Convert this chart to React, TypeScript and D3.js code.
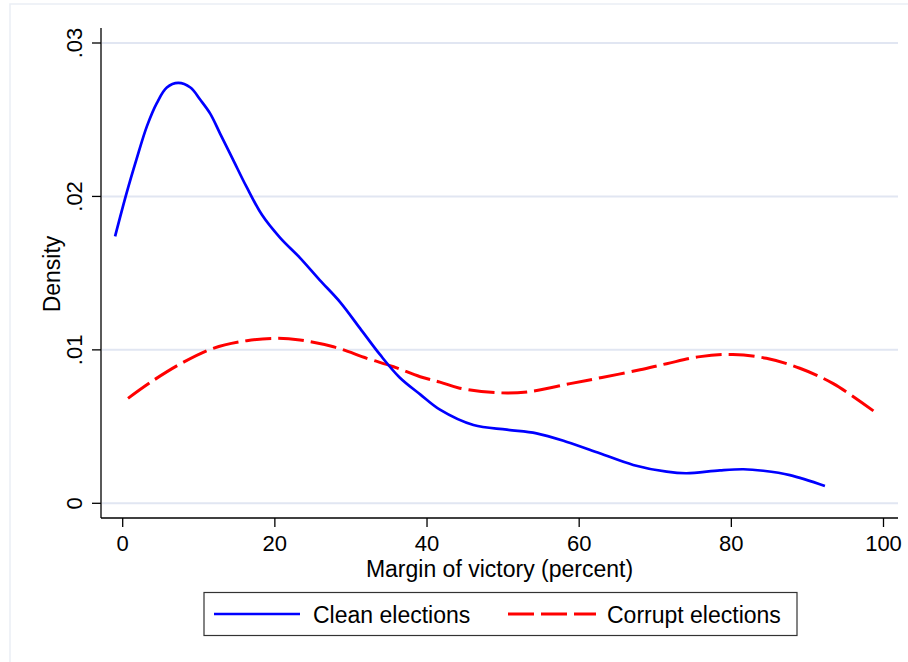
import React from 'react'
import * as d3 from 'd3'

// values
const cleanX = [-1, 0.5, 1.8, 3.2, 4.5, 5.8, 7.3, 8.9, 10.2, 11.5, 12.8, 14.5, 16.3, 18.3, 20.7, 23.3, 25.9, 28.6, 31.2, 33.8, 36.4, 39.1, 41.7, 46.1, 50.5, 54.4, 58.4, 62.7, 67.1, 71.5, 74.1, 78.5, 81.6, 84.2, 87.7, 92.3]
const cleanY = [.0174, .0202, .0224, .0246, .0261, .0271, .0274, .0271, .0263, .0254, .0241, .0224, .0206, .0188, .0173, .0160, .01455, .0131, .0114, .0097, .0082, .0071, .0061, .0051, .0048, .00456, .0040, .00326, .0025, .00206, .00196, .00215, .00222, .00212, .00184, .00113]

const corruptX = [0.7, 4, 8, 11.9, 16.3, 20.2, 23.3, 27.7, 32.1, 35.6, 39.1, 41.7, 44.3, 49.6, 53.5, 58.8, 63, 68, 71.5, 75.9, 80.2, 84.6, 89, 93.4, 99.1]
const corruptY = [.00684, .0080, .0092, .0101, .0106, .01075, .01064, .0102, .00945, .0089, .00825, .0079, .0075, .0072, .00728, .0078, .0082, .0087, .0091, .00956, .0097, .00945, .0088, .0078, .00587]

const xTicks = [0, 20, 40, 60, 80, 100]
const yTicks = [0, .01, .02, .03]
const yTickLabels = ['0', '.01', '.02', '.03']

const font = 'Liberation Sans, Arial, Helvetica, sans-serif'

const App = () => {
  const width = 908
  const height = 662
  const left = 101, right = 898, top = 28, bottom = 518

  const xScale = d3.scaleLinear().domain([0, 100]).range([122.7, 883.5])
  const yScale = d3.scaleLinear().domain([0, .03]).range([503.3, 43])

  const line = d3.line<[number, number]>()
    .x(d => xScale(d[0]))
    .y(d => yScale(d[1]))
    .curve(d3.curveCatmullRom)

  const clean = cleanX.map((x, i) => [x, cleanY[i]] as [number, number])
  const corrupt = corruptX.map((x, i) => [x, corruptY[i]] as [number, number])

  return (
    <svg width={width} height={height} style={{position: 'absolute', left: 0, top: 0, background: '#fff'}}>
      <rect x={10} y={4} width={910} height={680} fill="#fff" stroke="#eaeef5" strokeWidth={1.5} />

      {yTicks.map(t => (
        <line key={'g' + t} x1={left + 1} x2={right} y1={yScale(t)} y2={yScale(t)} stroke="#e1e6f2" strokeWidth={2} />
      ))}

      <path d={line(corrupt) || ''} fill="none" stroke="#ff0000" strokeWidth={3} strokeDasharray="26 7" />
      <path d={line(clean) || ''} fill="none" stroke="#0000ff" strokeWidth={2.7} />

      {/* y axis */}
      <line x1={left} x2={left} y1={top} y2={bottom} stroke="#000" strokeWidth={1.3} />
      {yTicks.map((t, i) => (
        <g key={'y' + t}>
          <line x1={left} x2={left - 9} y1={yScale(t)} y2={yScale(t)} stroke="#000" strokeWidth={1.3} />
          <text transform={`translate(82,${yScale(t)}) rotate(-90)`} textAnchor="middle" fontFamily={font} fontSize={22} fill="#000">{yTickLabels[i]}</text>
        </g>
      ))}
      <text transform={`translate(60,274) rotate(-90)`} textAnchor="middle" fontFamily={font} fontSize={23} fill="#000">Density</text>

      {/* x axis */}
      <line x1={left} x2={right} y1={bottom} y2={bottom} stroke="#000" strokeWidth={1.3} />
      {xTicks.map(t => (
        <g key={'x' + t}>
          <line x1={xScale(t)} x2={xScale(t)} y1={bottom} y2={bottom + 9} stroke="#000" strokeWidth={1.3} />
          <text x={xScale(t)} y={551} textAnchor="middle" fontFamily={font} fontSize={22} fill="#000">{t}</text>
        </g>
      ))}
      <text x={(left + right) / 2} y={577} textAnchor="middle" fontFamily={font} fontSize={23} fill="#000">Margin of victory (percent)</text>

      {/* legend */}
      <rect x={204} y={592.5} width={593} height={43} fill="#fff" stroke="#333" strokeWidth={1.2} />
      <line x1={214} x2={300} y1={614} y2={614} stroke="#0000ff" strokeWidth={2.7} />
      <text x={313} y={623} fontFamily={font} fontSize={23} fill="#000">Clean elections</text>
      <line x1={508} x2={596} y1={614} y2={614} stroke="#ff0000" strokeWidth={3} strokeDasharray="26 7" />
      <text x={607} y={623} fontFamily={font} fontSize={23} fill="#000">Corrupt elections</text>
    </svg>
  )
}

export default App
